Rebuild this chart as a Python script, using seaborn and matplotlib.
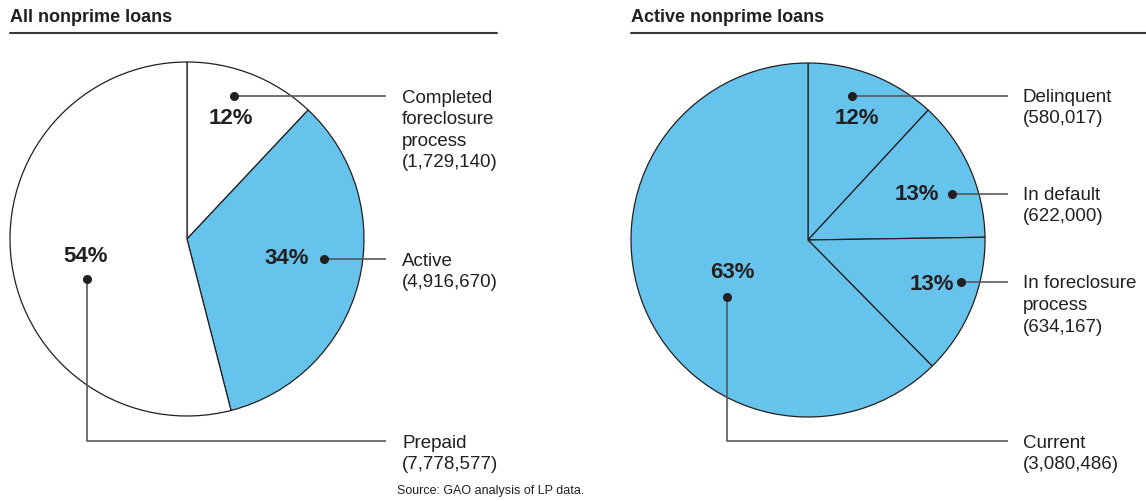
import matplotlib
matplotlib.use("Agg")
import matplotlib.pyplot as plt
import seaborn as sns

sns.set_theme(style="white")
plt.rcParams["font.family"] = ["Liberation Sans", "DejaVu Sans"]

# ---- data ----
all_categories = ["Completed\nforeclosure\nprocess", "Active", "Prepaid"]
all_counts = [1729140, 4916670, 7778577]
all_shares = [12, 34, 54]

active_categories = ["Delinquent", "In default", "In foreclosure\nprocess", "Current"]
active_counts = [580017, 622000, 634167, 3080486]
active_shares = [12, 13, 13, 63]

BLUE = "#66C4EC"
INK = "#231F20"
LEADER = "#58595B"

W, H = 1146, 501
fig = plt.figure(figsize=(W / 100, H / 100), dpi=100)
ax = fig.add_axes([0, 0, 1, 1])


def Y(py):
    """Convert a top-down pixel row to the axes' bottom-up coordinate."""
    return H - py


def draw_pie(shares, colors, cx, cy, r):
    ax.pie(shares, colors=colors, startangle=90, counterclock=False,
           center=(cx, Y(cy)), radius=r,
           wedgeprops=dict(edgecolor=INK, linewidth=0.9))


def label_block(x, y_first, name, value, pitch=21.5):
    lines = name.split("\n") + [f"({value:,})"]
    for k, line in enumerate(lines):
        ax.text(x, Y(y_first + k * pitch + 6.5), line, fontsize=13.5,
                color=INK, ha="left", va="baseline")


def dot(x, y):
    ax.plot([x], [Y(y)], "o", ms=5.5, color=INK, zorder=5)


def leader(xs, ys):
    ax.plot(xs, [Y(v) for v in ys], color=LEADER, lw=1.2, zorder=4,
            solid_capstyle="butt")


def pct_text(x, y, share):
    ax.text(x, Y(y), f"{share}%", fontsize=16, fontweight="bold", color=INK,
            ha="center", va="center", zorder=6)


# ---- left pie: all nonprime loans ----
draw_pie(all_shares, ["white", BLUE, "white"], 187, 239, 177)

pct_text(231, 118, all_shares[0])
dot(234, 96)
leader([234, 386], [96, 96])
label_block(402, 96, all_categories[0], all_counts[0])

pct_text(287, 258, all_shares[1])
dot(324, 259)
leader([324, 386], [259, 259])
label_block(402, 259, all_categories[1], all_counts[1])

pct_text(86, 257, all_shares[2])
dot(87, 279)
leader([87, 87, 386], [279, 441, 441])
label_block(402, 441, all_categories[2], all_counts[2])

# ---- right pie: active nonprime loans ----
draw_pie(active_shares, [BLUE] * 4, 808, 240, 177)

pct_text(857, 118, active_shares[0])
dot(852, 96)
leader([852, 1008], [96, 96])
label_block(1023, 95, active_categories[0], active_counts[0])

pct_text(917, 194, active_shares[1])
dot(952, 194)
leader([952, 1008], [194, 194])
label_block(1023, 193, active_categories[1], active_counts[1])

pct_text(932, 285, active_shares[2])
dot(961, 282)
leader([961, 1008], [282, 282])
label_block(1023, 282, active_categories[2], active_counts[2])

pct_text(732, 273, active_shares[3])
dot(727, 297)
leader([727, 727, 1008], [297, 441, 441])
label_block(1023, 441, active_categories[3], active_counts[3])

# ---- titles, rules and source ----
ax.text(10, Y(21.7), "All nonprime loans", fontsize=13, fontweight="bold",
        color=INK, ha="left", va="baseline")
ax.text(631, Y(21.7), "Active nonprime loans", fontsize=13, fontweight="bold",
        color=INK, ha="left", va="baseline")
ax.plot([10, 497], [Y(32.7), Y(32.7)], color="#3A3A3A", lw=1.5)
ax.plot([631, 1146], [Y(32.7), Y(32.7)], color="#3A3A3A", lw=1.5)

ax.text(397, Y(491), "Source: GAO analysis of LP data.", fontsize=9,
        color=INK, ha="left", va="center")

ax.set_xlim(0, W)
ax.set_ylim(0, H)
ax.set_aspect("equal", adjustable="box")
ax.axis("off")

fig.savefig("out.png", dpi=100, facecolor="white")
